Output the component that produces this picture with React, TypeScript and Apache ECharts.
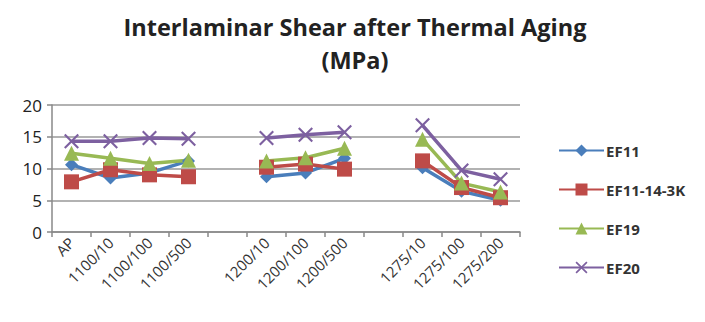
import React, { useEffect, useRef } from "react";
import * as echarts from "echarts";

const categories = ["AP", "1100/10", "1100/100", "1100/500", "", "1200/10", "1200/100", "1200/500", "", "1275/10", "1275/100", "1275/200"];
const ef11 = [10.6, 8.5, 9.3, 11.2, null, 8.7, 9.3, 11.6, null, 10.1, 6.4, 5.0];
const ef11143k = [7.9, 9.8, 9.0, 8.7, null, 10.2, 10.7, 9.9, null, 11.2, 7.0, 5.4];
const ef19 = [12.4, 11.6, 10.8, 11.3, null, 11.2, 11.7, 13.2, null, 14.6, 7.7, 6.3];
const ef20 = [14.3, 14.3, 14.8, 14.7, null, 14.8, 15.3, 15.7, null, 16.8, 9.7, 8.3];
const yTicks = [0, 5, 10, 15, 20];

const X_PATH = "path://M1,0 L5,4 L9,0 L10,1 L6,5 L10,9 L9,10 L5,6 L1,10 L0,9 L4,5 L0,1 Z";

export default function App() {
  const ref = useRef<HTMLDivElement>(null);
  useEffect(() => {
    if (!ref.current) return;
    const chart = echarts.init(ref.current, null, { renderer: "svg" });
    const mk = (name: string, data: (number | null)[], color: string, symbol: string, size: number) => ({
      name,
      type: "line",
      data,
      connectNulls: false,
      symbol,
      symbolSize: size,
      color,
      lineStyle: { width: 3.5, color },
      itemStyle: { color },
    });
    chart.setOption({
      animation: false,
      backgroundColor: "#fff",
      title: {
        text: "Interlaminar Shear after Thermal Aging\n(MPa)",
        left: 350,
        textAlign: "center",
        top: 5,
        textStyle: { fontFamily: "Open Sans", fontWeight: "bold", fontSize: 23.5, color: "#222", lineHeight: 33 },
      },
      legend: {
        orient: "vertical",
        left: 553,
        top: 138,
        itemGap: 24,
        itemWidth: 45,
        itemHeight: 15,
        textStyle: { fontFamily: "Open Sans", fontWeight: "bold", fontSize: 15, color: "#333", padding: [0, 0, 0, -3] },
        data: ["EF11", "EF11-14-3K", "EF19", "EF20"],
      },
      grid: { left: 52, right: 185, top: 105, bottom: 90, containLabel: false },
      xAxis: {
        type: "category",
        data: categories,
        boundaryGap: true,
        axisLine: { lineStyle: { color: "#888", width: 1.5 } },
        axisTick: { show: true, length: 5, interval: 0, lineStyle: { color: "#888", width: 1.5 } },
        axisLabel: { interval: 0, rotate: 45, fontFamily: "Open Sans", fontSize: 15, color: "#333", margin: 8 },
      },
      yAxis: {
        type: "value",
        min: yTicks[0],
        max: yTicks[yTicks.length - 1],
        interval: 5,
        axisLine: { show: true, lineStyle: { color: "#888", width: 1.5 } },
        axisTick: { show: true, length: 5, lineStyle: { color: "#888", width: 1.5 } },
        splitLine: { lineStyle: { color: "#999", width: 1.5 } },
        axisLabel: { fontFamily: "Open Sans", fontSize: 17, color: "#222", margin: 10 },
      },
      series: [
        mk("EF11", ef11, "#4A7EBB", "diamond", 13),
        mk("EF11-14-3K", ef11143k, "#BE4B48", "rect", 15),
        mk("EF19", ef19, "#98B954", "triangle", 15),
        mk("EF20", ef20, "#7D60A0", X_PATH, 15),
      ],
    });
    return () => chart.dispose();
  }, []);
  return <div ref={ref} style={{ width: 705, height: 322, margin: -8 }} />;
}
